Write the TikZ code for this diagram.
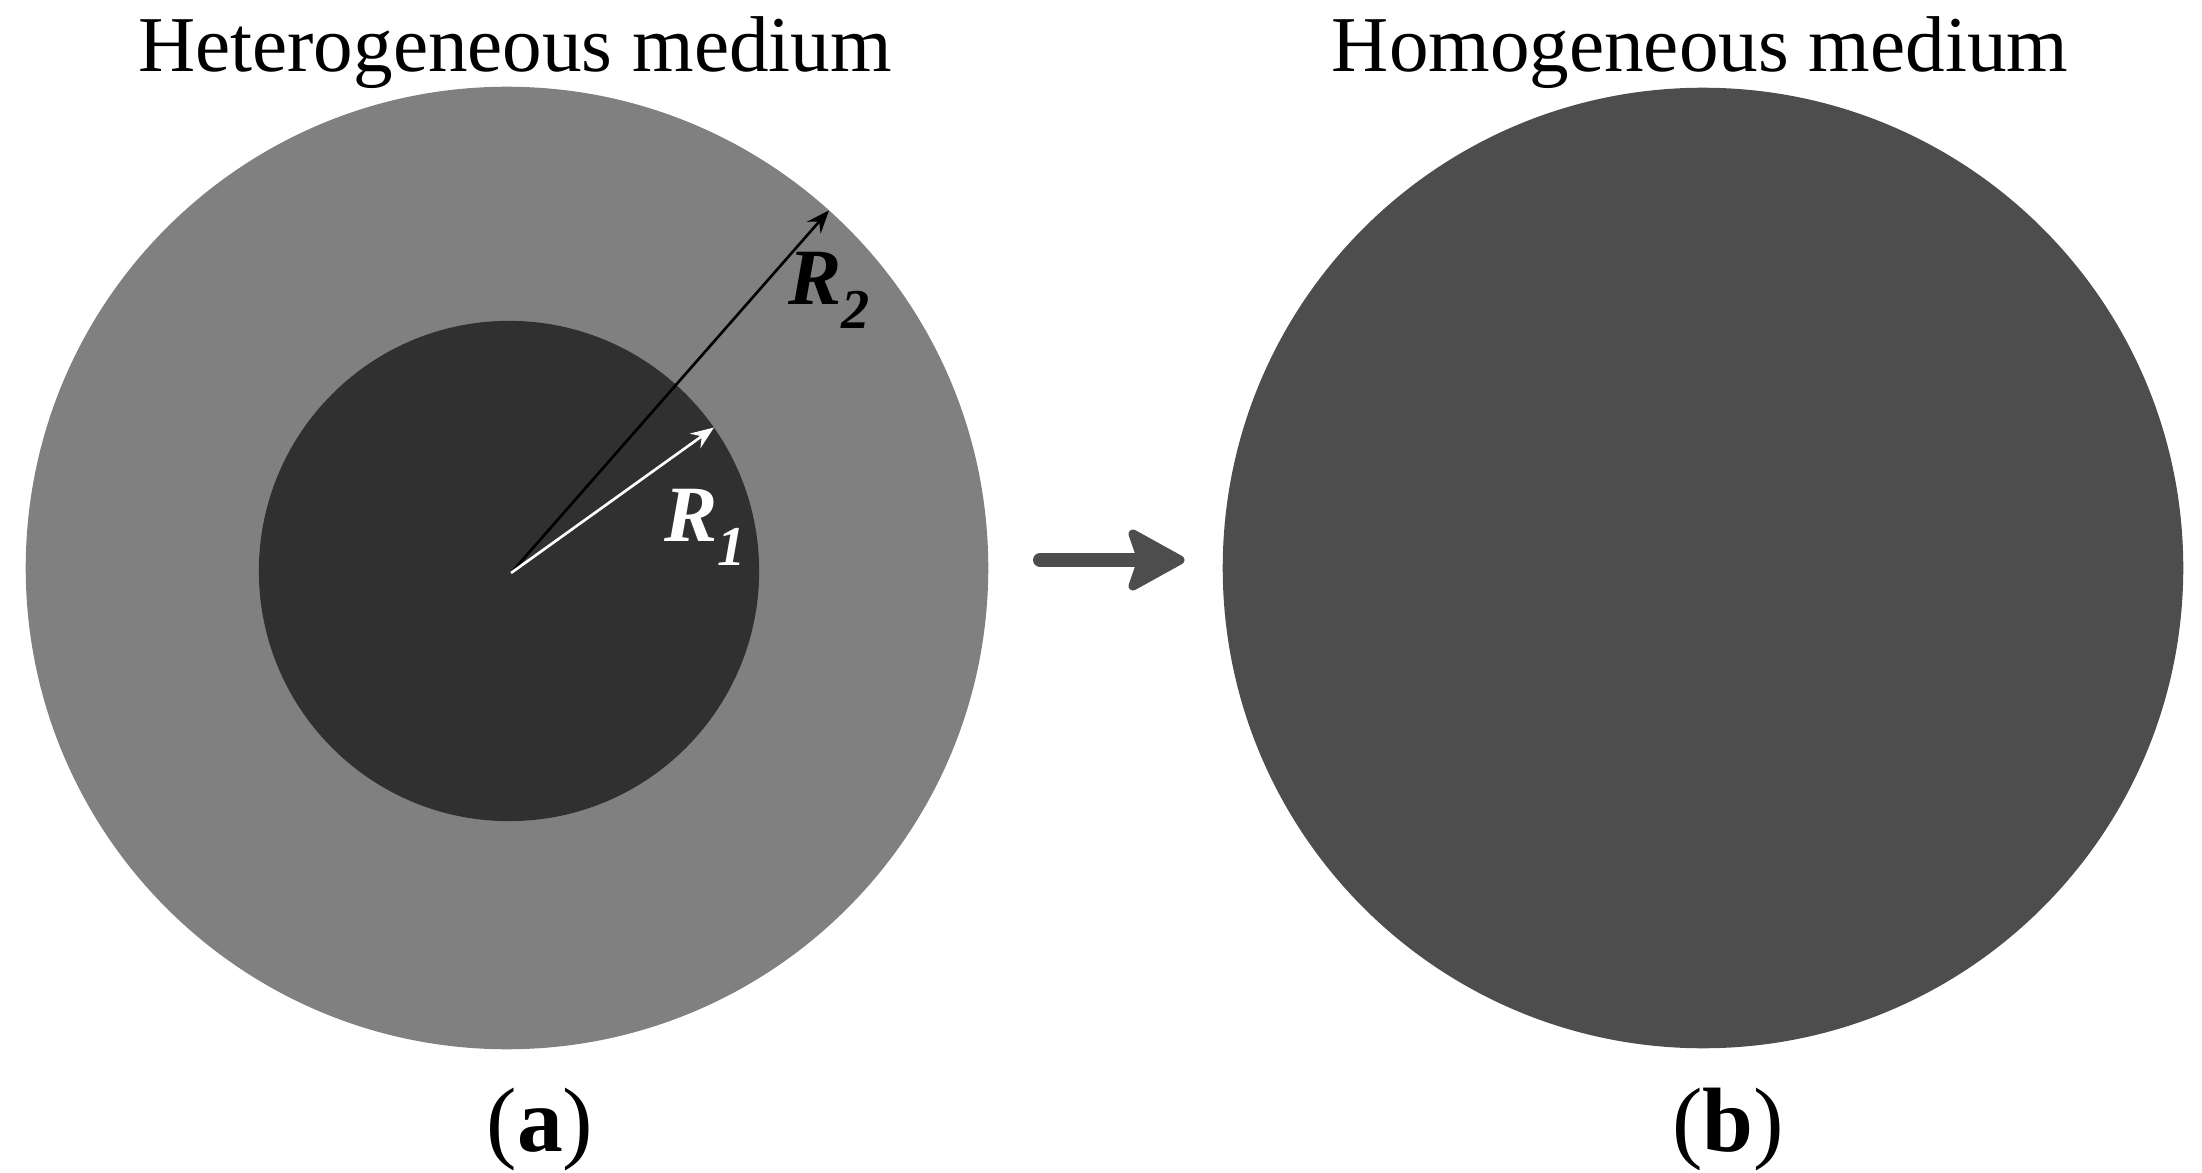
\documentclass[tikz,border=0pt]{standalone}
\usepackage{fontspec}
\setmainfont{Liberation Serif}
\usetikzlibrary{arrows.meta}
\definecolor{ringgray}{HTML}{808080}
\definecolor{coregray}{HTML}{303030}
\definecolor{homgray}{HTML}{4D4D4D}
\begin{document}
\begin{tikzpicture}[x=0.01cm, y=-0.01cm,
  disc/.style={circle, inner sep=0pt, outer sep=0pt, draw=none},
  heading/.style={font=\fontsize{22.5pt}{27pt}\selectfont, anchor=base, inner sep=0pt},
  sublabel/.style={font=\fontsize{26pt}{30pt}\selectfont, anchor=base, inner sep=0pt},
  rlabel/.style={font=\fontsize{22.7pt}{26pt}\selectfont\bfseries\itshape, inner sep=0pt},
  radiusarrow/.style={-{Stealth[length=2.3mm, width=1.8mm, inset=0.8mm]}, line width=0.75pt},
  bigarrow/.style={homgray, line width=0.14cm, line cap=round, line join=round},
]
\useasboundingbox (0,0) rectangle (2202,1173);
% discs
\node[disc, fill=ringgray, minimum size=9.62cm] (outer) at (507,568) {};
\node[disc, fill=coregray, minimum size=5.0cm] (inner) at (509,571) {};
\node[disc, fill=homgray, minimum size=9.6cm] (homo) at (1703,568) {};
% radii
\coordinate (c) at (511,573);
\draw[radiusarrow, black] (c) -- (outer.48);
\draw[radiusarrow, white] (c) -- (inner.35);
\node[rlabel, text=black] (r2) at (829,290) {R\raisebox{-0.3em}{\fontsize{16pt}{16pt}\selectfont 2}};
\node[rlabel, text=white] (r1) at (705,527) {R\raisebox{-0.3em}{\fontsize{16pt}{16pt}\selectfont 1}};
% big arrow
\coordinate (as) at (1040,560);
\coordinate (ae) at (1180,560);
\draw[bigarrow] (as) -- ([xshift=-0.3cm]ae);
\filldraw[bigarrow, line width=0.09cm] (ae) -- ++(-47,-26) -- ++(9,26) -- ++(-9,26) -- cycle;
% texts
\node[heading] (h1) at (515,72) {Heterogeneous medium};
\node[heading] (h2) at (1700,72) {Homogeneous medium};
\node[sublabel] (la) at (540,1151) {(\textbf{a})};
\node[sublabel] (lb) at (1728,1151) {(\textbf{b})};
\end{tikzpicture}
\end{document}
